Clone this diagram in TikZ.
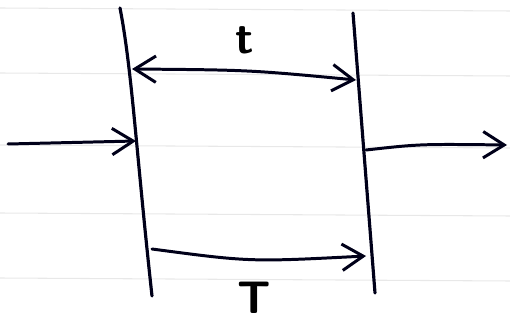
\documentclass[tikz,border=0pt]{standalone}
\usetikzlibrary{arrows.meta}
\begin{document}
\begin{tikzpicture}[x=0.02cm, y=-0.02cm, line cap=round, line join=round,
    rule/.style={line width=0.6pt, black!9},
    wall/.style={line width=1.8pt, black!90!blue},
    ray/.style={line width=1.7pt, black!90!blue, -{Straight Barb[length=12pt, width=15pt, line width=1.7pt]}},
    span/.style={line width=1.7pt, black!90!blue, {Straight Barb[length=12pt, width=15pt, line width=1.7pt]}-{Straight Barb[length=12pt, width=15pt, line width=1.7pt]}},
    lbl/.style={inner sep=0pt, font=\fontsize{26}{26}\selectfont\sffamily\bfseries}]
  \useasboundingbox (0,0) rectangle (510,320);
  \foreach \yy in {8,73,145,213,278}
    \draw[rule] (0,\yy) -- (510,\yy+3);
  \coordinate (lt) at (120,8);
  \coordinate (lb) at (152,296);
  \coordinate (rt) at (353,13);
  \coordinate (rb) at (375,293);
  \draw[wall] (lt) .. controls (132,70) and (136,150) .. (lb);
  \draw[wall] (rt) -- (rb);
  \coordinate (tL) at (132,69);
  \coordinate (tR) at (356,80);
  \coordinate (inA) at (8,144);
  \coordinate (inB) at (136,141);
  \coordinate (outA) at (366,150);
  \coordinate (outB) at (507,145);
  \coordinate (TL) at (152,249);
  \coordinate (TR) at (366,256);
  \draw[span] (tL) .. controls (250,70) .. (tR);
  \draw[ray] (inA) -- (inB);
  \draw[ray] (outA) .. controls (420,144) .. (outB);
  \draw[ray] (TL) .. controls (250,262) .. (TR);
  \node[lbl] (tlabel) at (245,40) {t};
  \node[lbl] (Tlabel) at (254,298) {T};
\end{tikzpicture}
\end{document}
